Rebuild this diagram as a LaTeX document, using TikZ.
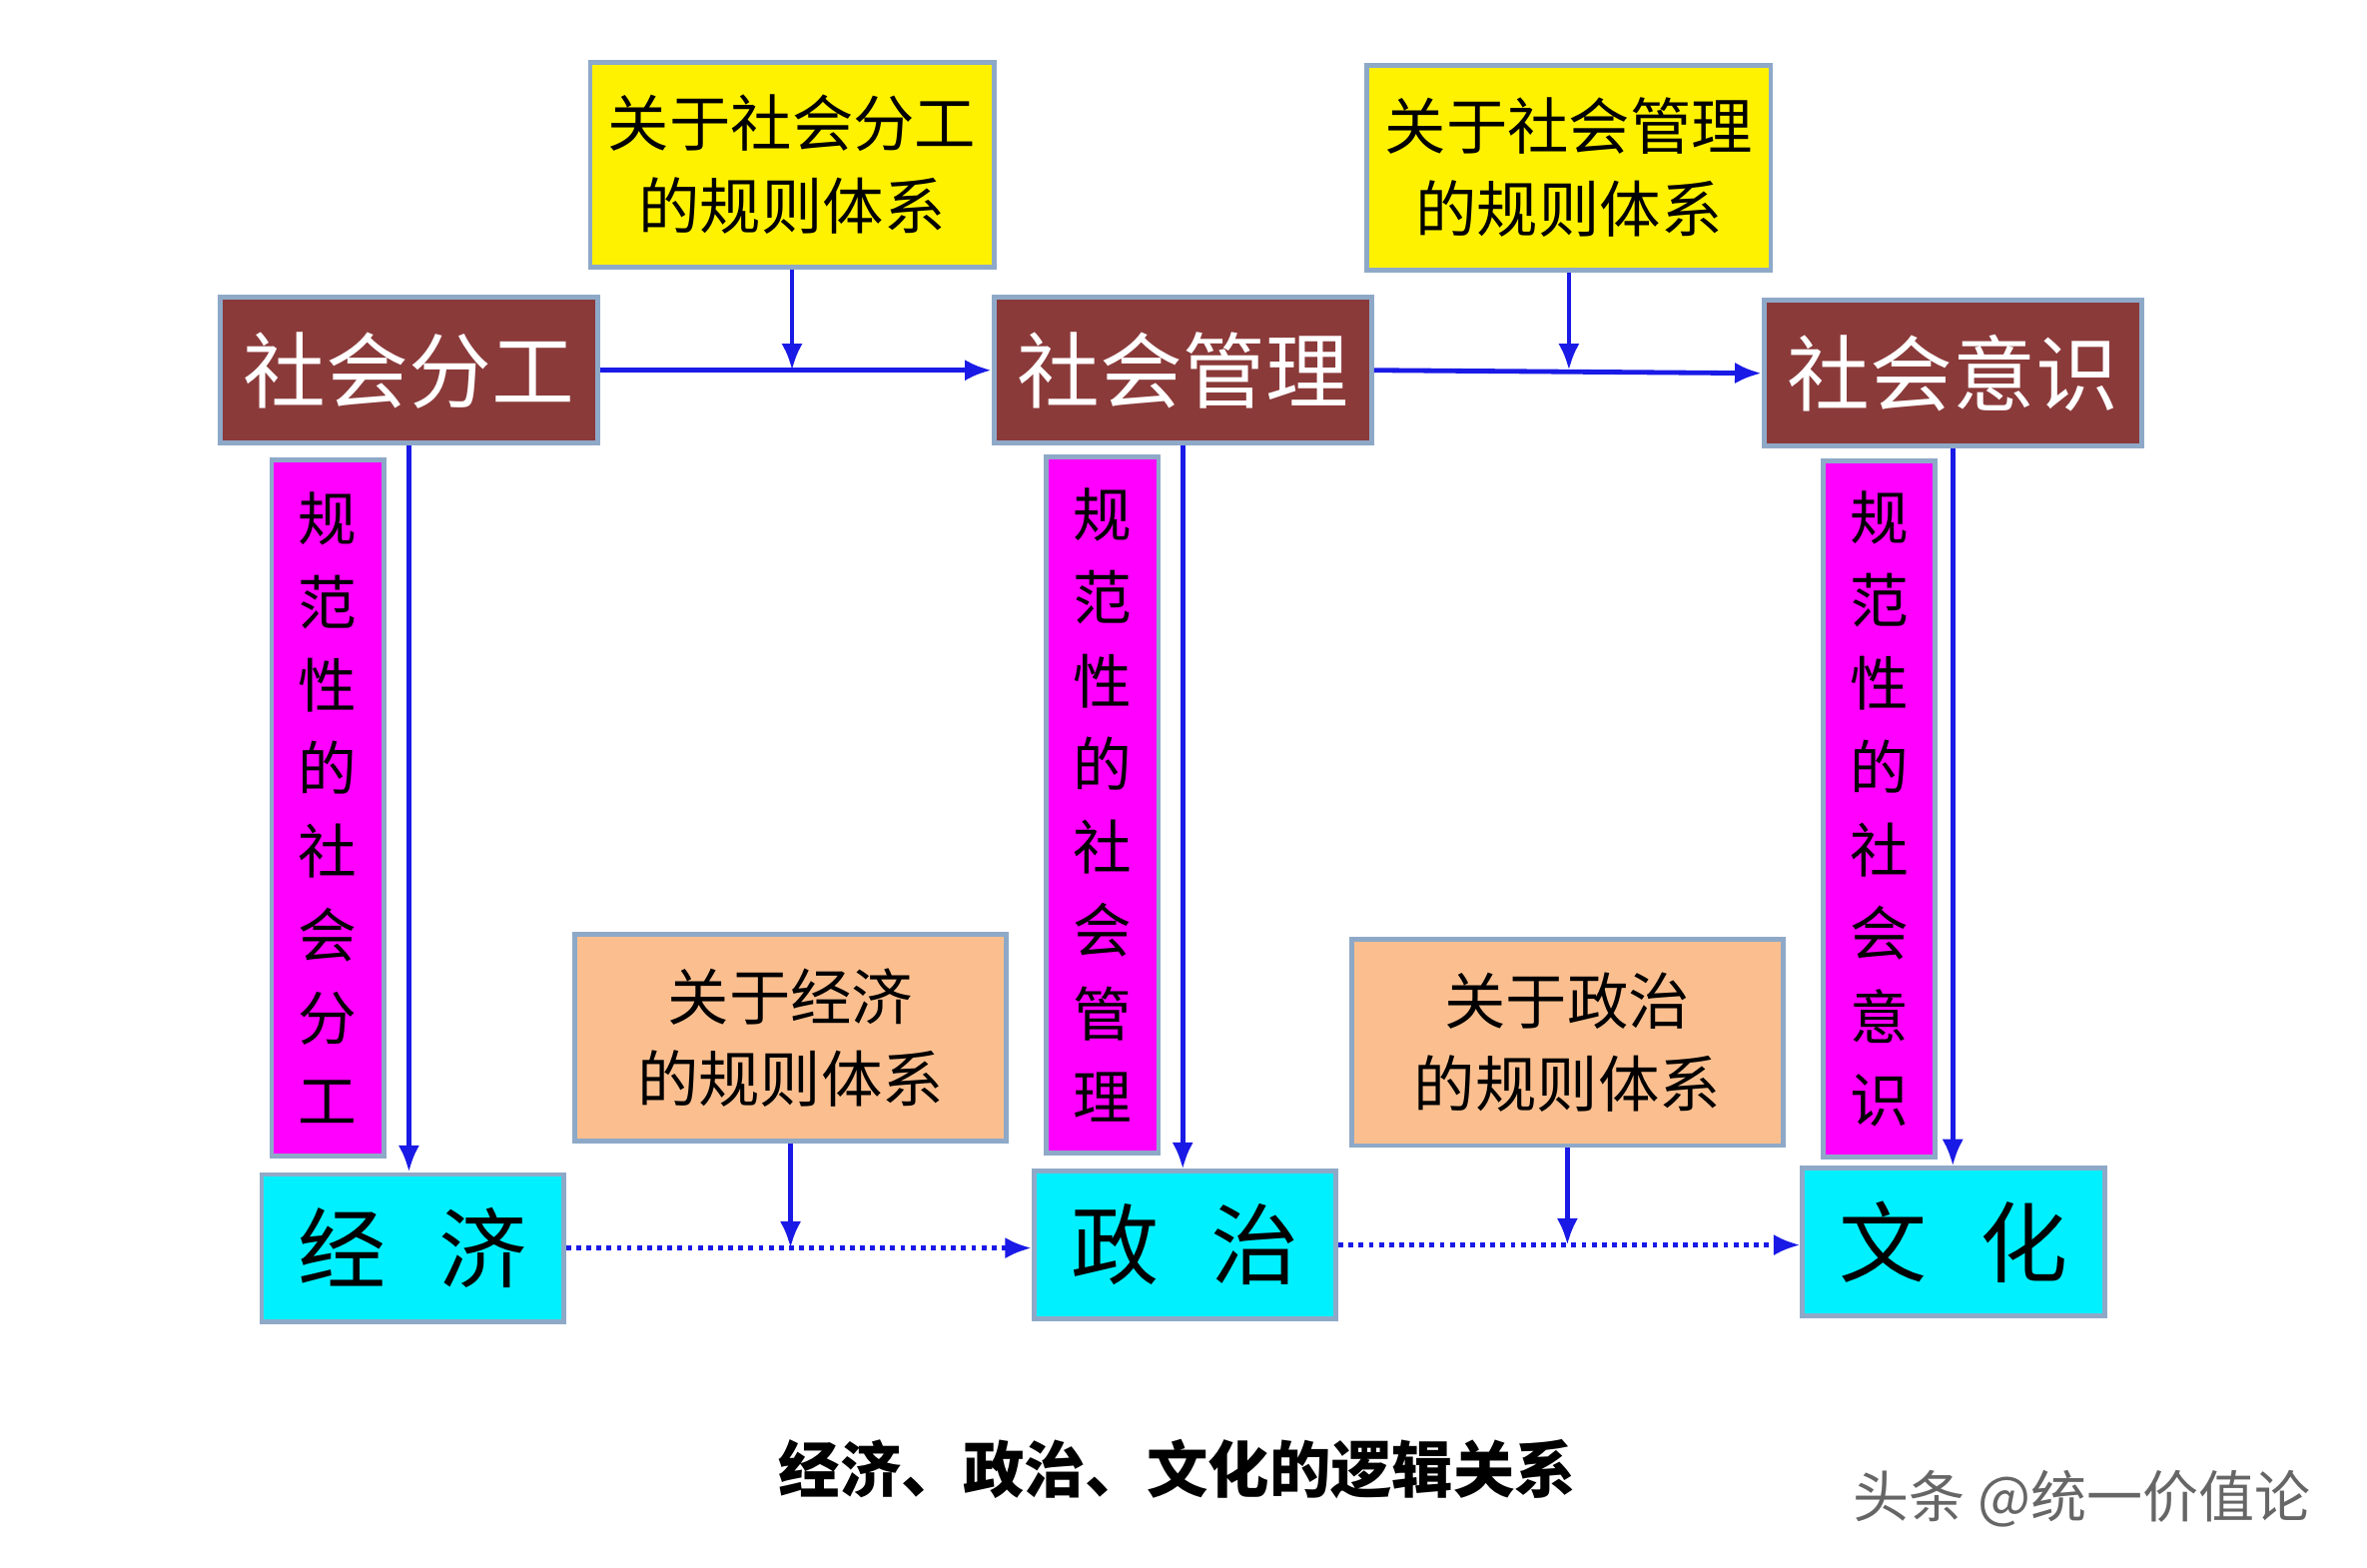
\documentclass[tikz,border=0pt]{standalone}
\usepackage{fontspec}
\setmainfont{Noto Sans CJK SC}
\usetikzlibrary{arrows.meta}
\definecolor{edge}{HTML}{8EA9C8}
\definecolor{brownbox}{HTML}{8B3A3A}
\definecolor{orangebox}{HTML}{FBBF8F}
\definecolor{pinkbox}{HTML}{FF00FF}
\definecolor{aquabox}{HTML}{00F0FF}
\definecolor{arrowblue}{HTML}{1A1AE6}
\tikzset{
  box/.style={draw=edge,line width=0.9pt,inner sep=0pt,align=center},
  rule_box/.style={box,fill=yellow,minimum width=2.66cm,minimum height=1.35cm,font=\fontsize{11.5}{15.5}\selectfont},
  field_box/.style={box,fill=brownbox,text=white,minimum width=2.49cm,minimum height=0.96cm,font=\fontsize{15.5}{18}\selectfont},
  norm_box/.style={box,fill=pinkbox,minimum width=0.74cm,minimum height=4.59cm,font=\fontsize{11}{15.6}\selectfont},
  sphere_box/.style={box,fill=aquabox,minimum width=1.99cm,minimum height=0.97cm,font=\fontsize{16.5}{18}\selectfont},
  law_box/.style={box,fill=orangebox,minimum width=2.84cm,minimum height=1.36cm,font=\fontsize{11.5}{15.5}\selectfont},
  link/.style={arrowblue,line width=0.9pt,-{Latex[length=5pt,width=4pt]}},
  dlink/.style={link,densely dotted}
}
\begin{document}
\begin{tikzpicture}
\useasboundingbox[fill=white] (0,0) rectangle (15.6,-10.33);

% top row
\node[rule_box] (rule1) at (5.22,-1.085) {关于社会分工\\的规则体系};
\node[rule_box] (rule2) at (10.34,-1.105) {关于社会管理\\的规则体系};
\node[field_box] (field1) at (2.695,-2.44) {社会分工};
\node[field_box] (field2) at (7.795,-2.44) {社会管理};
\node[field_box] (field3) at (12.87,-2.46) {社会意识};

% vertical norms
\node[norm_box] (norm1) at (2.16,-5.325) {规\\范\\性\\的\\社\\会\\分\\工};
\node[norm_box] (norm2) at (7.265,-5.305) {规\\范\\性\\的\\社\\会\\管\\理};
\node[norm_box] (norm3) at (12.385,-5.33) {规\\范\\性\\的\\社\\会\\意\\识};

% bottom row
\node[law_box] (law1) at (5.21,-6.84) {关于经济\\的规则体系};
\node[law_box] (law2) at (10.33,-6.87) {关于政治\\的规则体系};
\node[sphere_box] (econ) at (2.72,-8.225) {经\hspace{0.6em}济};
\node[sphere_box] (poli) at (7.81,-8.205) {政\hspace{0.6em}治};
\node[sphere_box] (cult) at (12.875,-8.185) {文\hspace{0.6em}化};

\node[font=\fontsize{11.5}{12}\selectfont\bfseries] (title) at (7.76,-9.68) {经济、政治、文化的逻辑关系};
\node[font=\fontsize{10.5}{12}\selectfont,text=black!60] (mark) at (13.72,-9.88) {头条 @统一价值论};

% arrows
\draw[link] (field1.east) -- (field2.west);
\draw[link] (field2.east) -- (field3.west);
\draw[link] (rule1.south) -- (rule1.south |- field1.east);
\draw[link] (rule2.south) -- (rule2.south |- field2.east);
\draw[link] (field1.south) -- (field1.south |- econ.north);
\draw[link] (field2.south) -- (field2.south |- poli.north);
\draw[link] (field3.south) -- (field3.south |- cult.north);
\draw[dlink] (econ.east) -- (econ.east -| poli.west);
\draw[dlink] (poli.east) -- (poli.east -| cult.west);
\draw[link] (law1.south) -- (law1.south |- econ.east);
\draw[link] (law2.south) -- (law2.south |- poli.east);
\end{tikzpicture}
\end{document}
